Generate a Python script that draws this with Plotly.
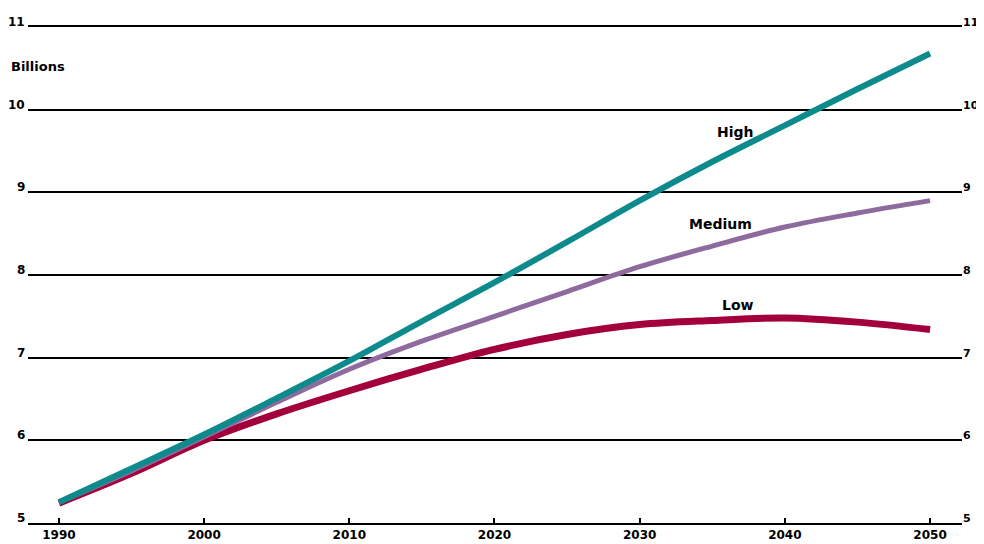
import plotly.graph_objects as go

years = [1990, 1995, 2000, 2005, 2010, 2015, 2020, 2025, 2030, 2035, 2040, 2045, 2050]
high = [5.25, 5.66, 6.07, 6.51, 6.96, 7.44, 7.91, 8.4, 8.9, 9.37, 9.81, 10.25, 10.68]
medium = [5.25, 5.63, 6.04, 6.46, 6.86, 7.2, 7.5, 7.8, 8.1, 8.35, 8.58, 8.75, 8.9]
low = [5.24, 5.6, 6.0, 6.32, 6.6, 6.86, 7.1, 7.28, 7.4, 7.45, 7.48, 7.43, 7.34]

x_ticks = [1990, 2000, 2010, 2020, 2030, 2040, 2050]
y_ticks = [5, 6, 7, 8, 9, 10, 11]
y_ticklabels = ["5", "6", "7", "8", "9", "10", "11"]

series_names = ["Low", "Medium", "High"]
label_pos = {"High": (2036.6, 9.73), "Medium": (2035.6, 8.62), "Low": (2036.8, 7.64)}

family = "DejaVu Sans, Verdana, sans-serif"
label_font = dict(family=family, size=14, color="black", weight="bold")
tick_font = dict(family=family, size=12, color="black", weight="bold")

fig = go.Figure()
fig.add_trace(go.Scatter(x=years, y=low, mode="lines", name="Low",
                         line=dict(color="#a3003b", width=7, shape="spline"), showlegend=False))
fig.add_trace(go.Scatter(x=years, y=medium, mode="lines", name="Medium",
                         line=dict(color="#8f6a9f", width=5, shape="spline"), showlegend=False))
fig.add_trace(go.Scatter(x=years, y=high, mode="lines", name="High",
                         line=dict(color="#0c8a8c", width=6, shape="spline"), showlegend=False))

for name in series_names:
    x, y = label_pos[name]
    fig.add_annotation(x=x, y=y, text=name, showarrow=False, font=label_font)

# y tick labels on both sides, sitting on their gridlines
for v, t in zip(y_ticks, y_ticklabels):
    fig.add_annotation(xref="paper", x=0, y=v, text=t, showarrow=False,
                       xanchor="right", yanchor="bottom", xshift=-1, yshift=-4,
                       font=tick_font)
    fig.add_annotation(xref="paper", x=1, y=v, text=t, showarrow=False,
                       xanchor="left", yanchor="bottom", xshift=-1, yshift=-4,
                       font=dict(family=family, size=11, color="black", weight="bold"))

fig.add_annotation(xref="paper", yref="paper", x=-0.0203, y=0.921, xanchor="left",
                   yanchor="middle", text="Billions", showarrow=False,
                   font=dict(family=family, size=13, color="black", weight="bold"))

fig.update_layout(
    width=976, height=536,
    margin=dict(l=20, r=22, t=19, b=21),
    paper_bgcolor="white", plot_bgcolor="white",
    font=label_font,
    xaxis=dict(range=[1987.87, 2052.2], tickvals=x_ticks, ticktext=[str(v) for v in x_ticks],
               showgrid=False, zeroline=False, showline=True, linecolor="black", linewidth=2,
               mirror=True, ticks="inside", ticklen=5, tickcolor="black", tickwidth=1.5,
               automargin=False, tickfont=tick_font),
    yaxis=dict(range=[5, 11], tickvals=y_ticks, showticklabels=False,
               showgrid=True, gridcolor="black", gridwidth=2, zeroline=False,
               showline=False, ticks="", automargin=False),
)

fig.write_html("out.html")
